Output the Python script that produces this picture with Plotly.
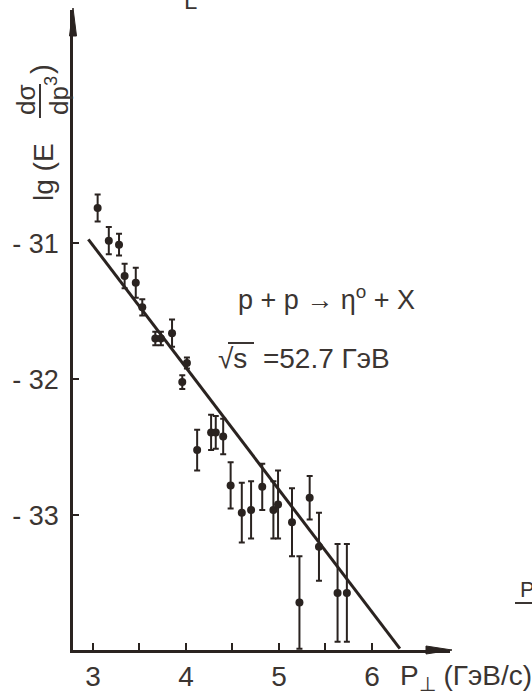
import plotly.graph_objects as go

# eta0 invariant cross section, p + p -> eta0 + X at sqrt(s) = 52.7 GeV
pt = [3.05, 3.17, 3.28, 3.34, 3.46, 3.53, 3.67, 3.73, 3.85, 3.96, 4.01,
      4.12, 4.27, 4.32, 4.40, 4.48, 4.60, 4.70, 4.82, 4.94, 4.99, 5.14,
      5.22, 5.33, 5.43, 5.63, 5.73]
lg_cs = [-30.74, -30.98, -31.01, -31.24, -31.29, -31.47, -31.70, -31.70,
         -31.66, -32.02, -31.88, -32.52, -32.39, -32.39, -32.42, -32.78,
         -32.98, -32.96, -32.79, -32.96, -32.92, -33.05, -33.64, -32.87,
         -33.23, -33.57, -33.57]
lg_err = [0.10, 0.10, 0.08, 0.09, 0.11, 0.06, 0.05, 0.05, 0.10, 0.05, 0.04,
          0.15, 0.13, 0.12, 0.13, 0.17, 0.22, 0.21, 0.17, 0.21, 0.25, 0.25,
          0.34, 0.16, 0.25, 0.36, 0.36]

# straight-line fit of lg(E d3sigma/dp3) versus p_T
fit_pt = [2.95, 6.30]
fit_lg = [-30.97, -33.98]

x_ticks = [3, 3.5, 4, 4.5, 5, 5.5, 6]
x_tick_text = ["3", "", "4", "", "5", "", "6"]
y_ticks = [-31, -32, -33]
y_tick_text = ["- 31", "- 32", "- 33"]

INK = "#2a2320"
TXT = "#3b3532"
FONT = "Liberation Sans"

W, H = 532, 696
L, R, T, B = 73, 82, 10, 46
X_RANGE = [2.785, 6.839]
Y_RANGE = [-33.99, -29.284]


def px(x):
    """pixel column -> paper fraction"""
    return (x - L) / (W - L - R)


def py(y):
    """pixel row -> paper fraction"""
    return (H - B - y) / (H - T - B)


fig = go.Figure()

fig.add_trace(go.Scatter(
    x=fit_pt, y=fit_lg, mode="lines",
    line=dict(color=INK, width=3), hoverinfo="skip", showlegend=False,
))

fig.add_trace(go.Scatter(
    x=pt, y=lg_cs, mode="markers",
    marker=dict(color=INK, size=8),
    error_y=dict(type="data", array=lg_err, visible=True,
                 color=INK, thickness=2, width=3),
    showlegend=False,
))

annotations = []


def text(s, x, y, size, xanchor="center", angle=0):
    annotations.append(dict(
        text=s, x=px(x), y=py(y), xref="paper", yref="paper",
        xanchor=xanchor, yanchor="middle", showarrow=False,
        textangle=angle, font=dict(family=FONT, size=size, color=TXT),
    ))


# vertical axis title: lg(E dσ/dp³)
text("lg (E", 43, 172, 28, angle=-90)
text("dσ", 26, 100, 26, angle=-90)
text("dp<sup>3</sup>", 57, 96, 26, angle=-90)
text(")", 42, 69, 30, angle=-90)

# reaction and energy
text("p + p → η<sup>o</sup> + X", 236, 298, 27, xanchor="left")
text("√s  =52.7 ГэВ", 216, 358, 28, xanchor="left")

# horizontal axis title
text("P<sub>⊥</sub> (ГэВ/с)", 398, 677, 28, xanchor="left")

# page fragments at the edges
text("P", 518, 589, 22, xanchor="left")
text("L", 182, 0, 24, xanchor="left")

shapes = [
    # fraction bar
    dict(type="line", xref="paper", yref="paper",
         x0=px(40), x1=px(40), y0=py(84), y1=py(118),
         line=dict(color=TXT, width=2)),
    # radical overline
    dict(type="line", xref="paper", yref="paper",
         x0=px(228), x1=px(254), y0=py(343), y1=py(343),
         line=dict(color=TXT, width=2)),
    # underline of margin fragment
    dict(type="line", xref="paper", yref="paper",
         x0=px(515), x1=px(534), y0=py(603), y1=py(603),
         line=dict(color=TXT, width=2)),
    # arrowhead of the vertical axis
    dict(type="path", xref="paper", yref="paper",
         path=f"M {px(73)},{py(8)} L {px(69.5)},{py(36)} L {px(76.5)},{py(36)} Z",
         fillcolor=INK, line=dict(color=INK, width=1)),
    # arrowhead of the horizontal axis
    dict(type="path", xref="paper", yref="paper",
         path=f"M {px(452)},{py(650)} L {px(426)},{py(646)} L {px(426)},{py(654)} Z",
         fillcolor=INK, line=dict(color=INK, width=1)),
]

fig.update_layout(
    width=W, height=H,
    margin=dict(l=L, r=R, t=T, b=B, pad=0, autoexpand=False),
    paper_bgcolor="white", plot_bgcolor="white",
    annotations=annotations, shapes=shapes,
    xaxis=dict(
        range=X_RANGE, tickvals=x_ticks, ticktext=x_tick_text,
        ticks="inside", ticklen=7, tickwidth=2, tickcolor=INK,
        showline=True, linewidth=2.5, linecolor=INK, automargin=False,
        showgrid=False, zeroline=False, ticklabelstandoff=0,
        tickfont=dict(family=FONT, size=28, color=TXT),
    ),
    yaxis=dict(
        range=Y_RANGE, tickvals=y_ticks, ticktext=y_tick_text,
        ticks="inside", ticklen=6, tickwidth=2, tickcolor=INK,
        showline=True, linewidth=2.5, linecolor=INK, automargin=False,
        showgrid=False, zeroline=False, ticklabelstandoff=6,
        tickfont=dict(family=FONT, size=27, color=TXT),
    ),
)

fig.write_html("out.html")
